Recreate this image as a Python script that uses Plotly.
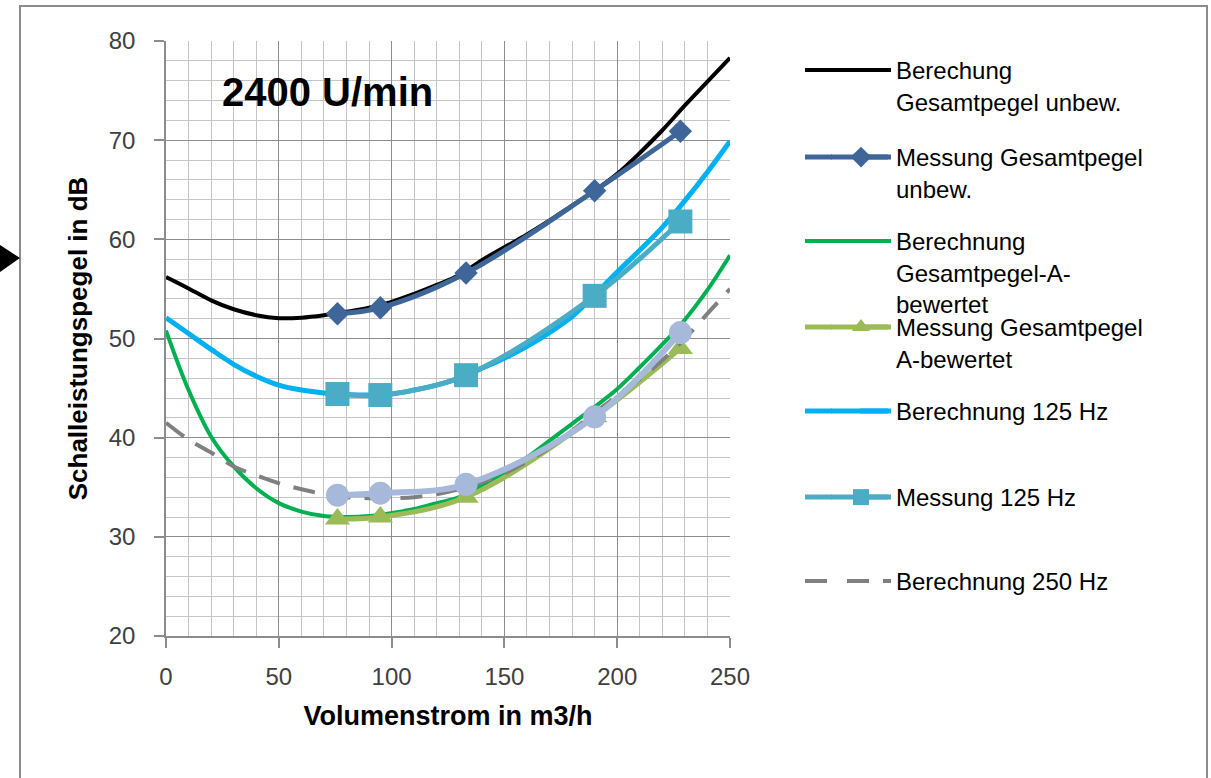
import plotly.graph_objects as go

# ---------------- data ----------------
x_calc = [0, 10, 20, 30, 40, 50, 60, 70, 80, 90, 100, 110, 120, 130, 140, 150,
          160, 170, 180, 190, 200, 210, 220, 230, 240, 250]
calc_total = [56.2, 55.05, 53.85, 52.95, 52.35, 52.05, 52.1, 52.35, 52.7, 53.1, 53.7, 54.5,
              55.4, 56.4, 57.9, 59.2, 60.5, 61.9, 63.4, 64.9, 66.6, 68.7, 71.0, 73.5, 75.9, 78.3]
calc_a = [50.8, 44.8, 40.1, 37.1, 34.9, 33.4, 32.55, 32.1, 32.0, 32.1, 32.4, 32.8,
          33.4, 34.0, 35.2, 36.5, 38.0, 39.7, 41.4, 43.1, 44.9, 47.1, 49.4, 51.9, 54.9, 58.4]
calc_125 = [52.1, 50.5, 48.9, 47.4, 46.2, 45.3, 44.8, 44.5, 44.35, 44.3, 44.4, 44.8,
            45.3, 46.0, 47.0, 48.0, 49.2, 50.6, 52.2, 54.4, 56.7, 58.9, 61.2, 63.9, 66.8, 69.9]
calc_250 = [41.5, 39.8, 38.5, 37.1, 36.2, 35.4, 34.8, 34.3, 34.0, 33.9, 33.9, 34.0,
            34.3, 34.8, 35.5, 36.4, 37.6, 39.0, 40.7, 42.5, 44.2, 45.9, 47.8, 50.0, 52.5, 55.0]

x_meas = [76, 95, 133, 190, 228]
meas_total = [52.5, 53.1, 56.6, 64.9, 70.9]
meas_a = [31.8, 32.0, 34.0, 42.1, 49.0]
meas_125 = [44.4, 44.3, 46.3, 54.3, 61.8]
meas_250 = [34.2, 34.4, 35.3, 42.1, 50.6]

x_ticks = [0, 50, 100, 150, 200, 250]
y_ticks = [20, 30, 40, 50, 60, 70, 80]

# ---------------- layout geometry ----------------
W, H = 1211, 778
L, R, T, B = 166, 730, 41, 636


def px(xp):
    return (xp - L) / (R - L)


def py(yp):
    return (B - yp) / (B - T)


FONT = "Liberation Sans, Arial, sans-serif"
LEG_FONT = dict(family=FONT, size=24, color="#000000")

fig = go.Figure()

traces = [
    dict(x=x_calc, y=calc_total, name="Berechung<br>Gesamtpegel unbew.",
         line=dict(color="#000000", width=4), mode="lines"),
    dict(x=x_meas, y=meas_total, name="Messung Gesamtpegel<br>unbew.",
         line=dict(color="#3F6699", width=5), mode="lines+markers",
         marker=dict(symbol="diamond", size=18, color="#3F6699")),
    dict(x=x_calc, y=calc_a, name="Berechnung<br>Gesamtpegel-A-<br>bewertet",
         line=dict(color="#00B050", width=4), mode="lines"),
    dict(x=x_meas, y=meas_a, name="Messung Gesamtpegel<br>A-bewertet",
         line=dict(color="#9BBB59", width=5), mode="lines+markers",
         marker=dict(symbol="triangle-up", size=22, color="#9BBB59")),
    dict(x=x_calc, y=calc_125, name="Berechnung 125 Hz",
         line=dict(color="#00B0F0", width=5), mode="lines"),
    dict(x=x_meas, y=meas_125, name="Messung 125 Hz",
         line=dict(color="#4BACC6", width=5), mode="lines+markers",
         marker=dict(symbol="square", size=24, color="#4BACC6")),
    dict(x=x_calc, y=calc_250, name="Berechnung 250 Hz",
         line=dict(color="#808080", width=4, dash="22px,14px"), mode="lines"),
]

legend_rows = [70, 157, 241, 327, 411, 497, 581]
TEXT_X = 897          # left edge of legend text
SYM_L, SYM_R = 805, 888  # legend symbol line extent

for i, t in enumerate(traces):
    t["line"]["shape"] = "spline"
    lg = "legend" if i == 0 else f"legend{i + 1}"
    fig.add_trace(go.Scatter(**t, legend=lg, showlegend=True))

fig.add_trace(go.Scatter(x=x_meas, y=meas_250, name="Messung 250 Hz", mode="lines+markers",
                         line=dict(color="#A7B9DA", width=6, shape="spline"),
                         marker=dict(symbol="circle", size=23, color="#A7B9DA"),
                         showlegend=False))

legends = {}
shapes = []
for i, (row, t) in enumerate(zip(legend_rows, traces)):
    key = "legend" if i == 0 else f"legend{i + 1}"
    dashed = t["line"].get("dash") is not None
    # native symbol line runs from legend_x+5 to legend_x+35, text at legend_x+41+(itemwidth-30)
    native_start = 847 if dashed else 831
    lx = native_start - 5
    iw = 30 + (TEXT_X - (lx + 41))
    legends[key] = dict(
        x=px(lx), y=py(row - 22), xanchor="left", yanchor="top",
        font=LEG_FONT, bgcolor="rgba(0,0,0,0)", borderwidth=0,
        valign="top", itemwidth=max(30, iw), itemclick=False, itemdoubleclick=False,
    )
    col = t["line"]["color"]
    wid = t["line"]["width"]
    if dashed:
        shapes.append(dict(type="line", xref="paper", yref="paper",
                           x0=px(SYM_L), x1=px(827), y0=py(row), y1=py(row),
                           line=dict(color=col, width=wid)))
    else:
        for a, b in [(SYM_L, native_start + 1), (native_start + 29, SYM_R)]:
            shapes.append(dict(type="line", xref="paper", yref="paper",
                               x0=px(a), x1=px(b), y0=py(row), y1=py(row),
                               line=dict(color=col, width=wid)))

axis_common = dict(
    showgrid=True, gridcolor="#8C8C8C", gridwidth=1,
    showline=True, linecolor="#8C8C8C", linewidth=1.5,
    ticks="outside", ticklen=10, tickcolor="#8C8C8C", tickwidth=1.5,
    tickfont=dict(family=FONT, size=24, color="#404040"),
    zeroline=False, fixedrange=True,
)

shapes += [
    dict(type="rect", xref="paper", yref="paper", x0=px(20), x1=px(1207), y0=py(830), y1=py(6),
         line=dict(color="#8C8C8C", width=2), fillcolor="rgba(0,0,0,0)", layer="below"),
    dict(type="path", xref="paper", yref="paper",
         path=f"M {px(0)} {py(245)} L {px(20)} {py(258)} L {px(0)} {py(272)} Z",
         fillcolor="#000000", line=dict(color="#000000", width=0)),
]

fig.update_layout(
    width=W, height=H,
    margin=dict(l=L, r=W - R, t=T, b=H - B),
    paper_bgcolor="#FFFFFF", plot_bgcolor="#FFFFFF",
    xaxis=dict(range=[0, 250], tickvals=x_ticks, **axis_common,
               minor=dict(dtick=10, showgrid=True, gridcolor="#C4C4C4", gridwidth=1, ticks=""),
               ticklabelstandoff=8,
               title=dict(text="<b>Volumenstrom in m3/h</b>", standoff=18,
                          font=dict(family=FONT, size=27, color="#000000"))),
    yaxis=dict(range=[20, 80], tickvals=y_ticks, **axis_common,
               minor=dict(dtick=2, showgrid=True, gridcolor="#C4C4C4", gridwidth=1, ticks=""),
               ticklabelstandoff=14,
               title=dict(text="<b>Schalleistungspegel in dB</b>", standoff=14,
                          font=dict(family=FONT, size=26, color="#000000"))),
    showlegend=True,
    **legends,
    annotations=[dict(x=23.9, y=74.86, xref="x", yref="y", xanchor="left", yanchor="middle",
                      text="<b>2400 U/min</b>", showarrow=False,
                      font=dict(family=FONT, size=40, color="#000000"))],
    shapes=shapes,
)

fig.write_html("out.html")
